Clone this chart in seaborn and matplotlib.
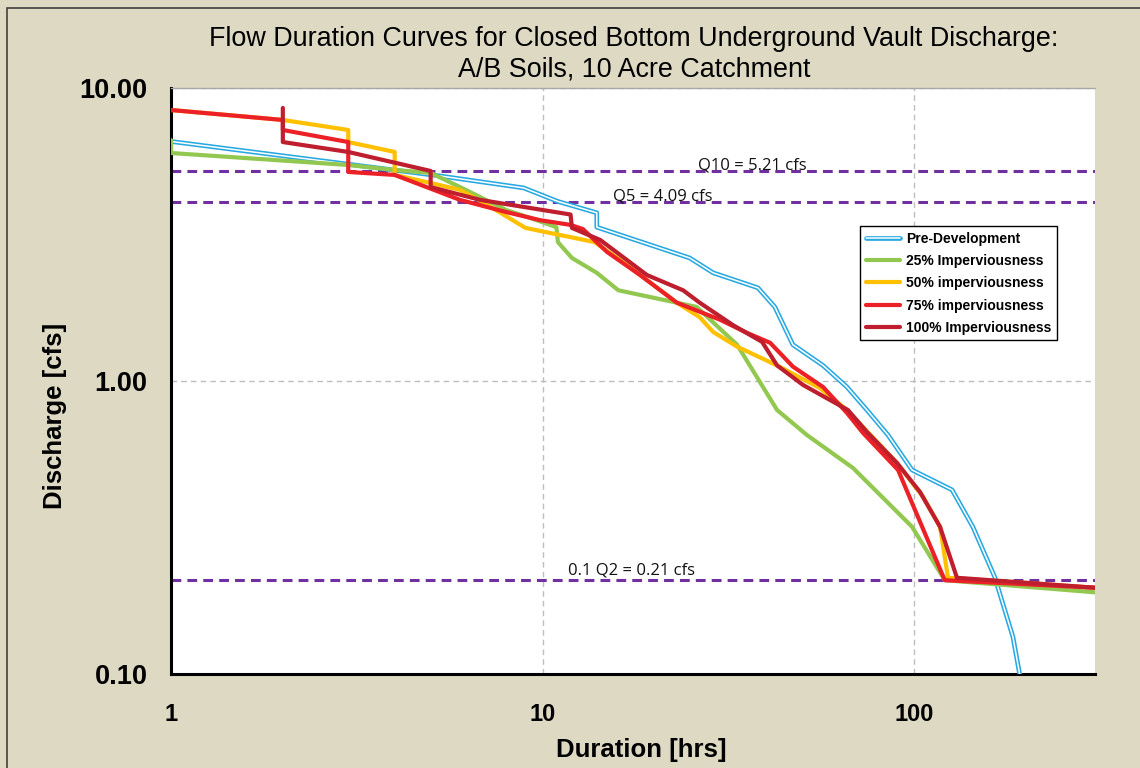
import matplotlib
matplotlib.use("Agg")
import matplotlib.pyplot as plt
import seaborn as sns
import numpy as np
from matplotlib.lines import Line2D
from matplotlib.patches import Rectangle
from matplotlib.ticker import FixedLocator, FixedFormatter, LogLocator, NullFormatter
from matplotlib.legend_handler import HandlerTuple

# ---------------- data ----------------
hours_pre = [1, 5.3, 8.9, 11.0, 14.0, 14.0, 24.9, 28.8, 38.0, 42.2, 47.2, 56.9, 66.0,
             74.7, 85.1, 98.8, 126.6, 144, 165, 184.6, 193]
cfs_pre = [6.57, 5.01, 4.56, 4.10, 3.75, 3.35, 2.63, 2.34, 2.08, 1.79, 1.33, 1.13, 0.954,
           0.796, 0.654, 0.497, 0.425, 0.318, 0.214, 0.134, 0.098]

hours_25 = [1, 1, 3.0, 4.0, 5.0, 6.0, 8.0, 9.1, 10.9, 11.0, 12.0, 14.0, 16.0, 26.0,
            33.4, 42.8, 51.5, 68.5, 98.8, 121, 307]
cfs_25 = [6.64, 6.00, 5.46, 5.25, 5.13, 4.59, 3.83, 3.63, 3.35, 2.98, 2.63, 2.34, 2.04, 1.79,
          1.33, 0.796, 0.654, 0.505, 0.318, 0.209, 0.19]

hours_50 = [1, 2, 3, 3, 4, 4, 5.0, 6.0, 6.9, 9.0, 13.8, 16.9, 19.1, 23.0, 26.5, 28.8,
            33.4, 42.8, 55.8, 66.0, 90.0, 105.8, 117.5, 123.5, 307]
cfs_50 = [8.41, 7.78, 7.19, 6.54, 6.05, 5.05, 4.74, 4.49, 4.08, 3.33, 2.98, 2.49, 2.21, 1.85,
          1.65, 1.47, 1.31, 1.13, 0.946, 0.796, 0.525, 0.402, 0.318, 0.213, 0.197]

hours_75 = [1, 2, 2, 3, 3, 4, 6.0, 8.0, 9.85, 11.9, 12.85, 14.9, 18.3, 23.0, 30.0, 35.5,
            41.0, 47.2, 56.9, 66.0, 72.9, 90.6, 121, 307]
cfs_75 = [8.41, 7.78, 7.19, 6.54, 5.17, 5.05, 4.15, 3.77, 3.54, 3.41, 3.30, 2.76, 2.30, 1.85,
          1.62, 1.46, 1.35, 1.12, 0.954, 0.778, 0.665, 0.497, 0.209, 0.197]

hours_100 = [2, 2, 3.0, 5.0, 5.0, 6.8, 11.9, 12.0, 14.3, 19.1, 23.9, 26.5, 32.6, 39.0,
             42.8, 50.3, 66.4, 74.7, 90.0, 103.8, 117.5, 130.5, 307]
cfs_100 = [8.55, 6.54, 6.05, 5.21, 4.59, 4.15, 3.70, 3.33, 3.03, 2.30, 2.04, 1.85, 1.55, 1.36,
           1.13, 0.969, 0.796, 0.670, 0.525, 0.418, 0.318, 0.213, 0.197]

series_names = ["Pre-Development", "25% Imperviousness", "50% imperviousness",
                "75% imperviousness", "100% Imperviousness"]

ref_values = [5.21, 4.09, 0.21]
ref_labels = ["Q10 = 5.21 cfs", "Q5 = 4.09 cfs", "0.1 Q2 = 0.21 cfs"]
ref_label_x = [26.2, 15.5, 11.7]

yticks = [0.1, 1, 10]
ytick_labels = ["0.10", "1.00", "10.00"]
xticks = [1, 10, 100]
xtick_labels = ["1", "10", "100"]

title = "Flow Duration Curves for Closed Bottom Underground Vault Discharge:\nA/B Soils, 10 Acre Catchment"

# ---------------- style ----------------
sns.set_style("white")
plt.rcParams['font.family'] = ['Liberation Sans', 'DejaVu Sans']
plt.rcParams['text.color'] = 'black'

BG = '#DDD9C3'
C_BLUE = '#29A9E1'
C_GREEN = '#92C850'
C_YELLOW = '#FFC000'
C_RED = '#EC2027'
C_DRED = '#BE1E2D'
C_PURPLE = '#7030A0'

W, H = 1140, 768
fig = plt.figure(figsize=(W / 100, H / 100), dpi=100, facecolor=BG)
ax = fig.add_axes([171 / W, 1 - 674 / H, (1095 - 171) / W, (674 - 88) / H])
ax.set_facecolor('white')
ax.set_xscale('log')
ax.set_yscale('log')
ax.set_xlim(1, 10 ** ((1095 - 171) / 371.5))
ax.set_ylim(0.1, 10)

# grid
for gx in [10, 100]:
    ax.axvline(gx, color='#BDBDBD', lw=1.0, ls=(0, (4, 3)), zorder=0.5)
for gy in [1, 10]:
    ax.axhline(gy, color='#BDBDBD', lw=1.0, ls=(0, (4, 3)), zorder=0.5)

# reference lines
for v in ref_values:
    ax.axhline(v, color=C_PURPLE, lw=2.2, dashes=(3.2, 2), zorder=1)
for v, lab, xl in zip(ref_values, ref_labels, ref_label_x):
    off = 1.012 if v > 1 else 1.04
    ax.text(xl, v * off, lab, fontsize=12, va='baseline', ha='left',
            family=['Open Sans', 'DejaVu Sans'], color='#111111', zorder=2)

lw = 3.0
kw = dict(estimator=None, sort=False, ax=ax, legend=False)
sns.lineplot(x=hours_pre, y=cfs_pre, color=C_BLUE, lw=3.4, zorder=3, **kw)
sns.lineplot(x=hours_pre, y=cfs_pre, color='white', lw=1.1, zorder=3.1, **kw)
sns.lineplot(x=hours_25, y=cfs_25, color=C_GREEN, lw=lw, zorder=4, **kw)
sns.lineplot(x=hours_50, y=cfs_50, color=C_YELLOW, lw=lw, zorder=5, **kw)
sns.lineplot(x=hours_75, y=cfs_75, color=C_RED, lw=lw, zorder=6, **kw)
sns.lineplot(x=hours_100, y=cfs_100, color=C_DRED, lw=lw, zorder=7, **kw)

# ticks
ax.yaxis.set_major_locator(FixedLocator(yticks))
ax.yaxis.set_major_formatter(FixedFormatter(ytick_labels))
ax.xaxis.set_major_locator(FixedLocator(xticks))
ax.xaxis.set_major_formatter(FixedFormatter(xtick_labels))
ax.yaxis.set_minor_locator(LogLocator(base=10, subs=np.arange(2, 10)))
ax.xaxis.set_minor_locator(LogLocator(base=10, subs=np.arange(2, 10)))
ax.yaxis.set_minor_formatter(NullFormatter())
ax.xaxis.set_minor_formatter(NullFormatter())
ax.tick_params(axis='y', which='major', direction='out', length=6, width=1.2,
               color='#404040', pad=11, labelsize=19.5, labelcolor='black')
ax.tick_params(axis='x', which='major', direction='inout', length=10, width=1.2,
               color='#404040', pad=16, labelsize=17, labelcolor='black')
ax.tick_params(axis='both', which='minor', direction='in', length=5, width=1.2,
               color='#404040')
for lab in ax.get_xticklabels() + ax.get_yticklabels():
    lab.set_fontweight('bold')

for s in ['left', 'bottom']:
    ax.spines[s].set_color('black')
    ax.spines[s].set_linewidth(2.2)
ax.spines['right'].set_visible(False)
ax.spines['top'].set_color('#A8A8A8')
ax.spines['top'].set_linewidth(1.0)
ax.spines['top'].set_linestyle((0, (2, 1)))

# labels & title
fig.text(55 / W, 1 - 416 / H, "Discharge [cfs]", rotation=90, ha='center', va='center',
         fontsize=18.5, fontweight='bold', color='black')
fig.text(641 / W, 1 - 750 / H, "Duration [hrs]", ha='center', va='center',
         fontsize=18.5, fontweight='bold', color='black')
fig.text(634 / W, 1 - 54 / H, title, ha='center', va='center', fontsize=19.4,
         linespacing=1.25, color='black')

# legend
h_pre = (Line2D([], [], color=C_BLUE, lw=3.4), Line2D([], [], color='white', lw=1.1))
handles = [h_pre,
           Line2D([], [], color=C_GREEN, lw=lw),
           Line2D([], [], color=C_YELLOW, lw=lw),
           Line2D([], [], color=C_RED, lw=lw),
           Line2D([], [], color=C_DRED, lw=lw)]
leg = ax.legend(handles, series_names, loc='upper left',
                bbox_to_anchor=(860 / W, 1 - 226 / H), bbox_transform=fig.transFigure,
                prop={'weight': 'bold', 'size': 10}, frameon=True, fancybox=False,
                edgecolor='black', framealpha=1, handlelength=2.5, handletextpad=0.4,
                labelspacing=0.6, borderpad=0.4, borderaxespad=0,
                handler_map={tuple: HandlerTuple(ndivide=1)})
leg.get_frame().set_linewidth(1.0)
for t in leg.get_texts():
    t.set_color('black')

# outer chart border (left & top visible)
fig.patches.append(Rectangle((7 / W, -0.5), 2, (1 - 8 / H) + 0.5, transform=fig.transFigure,
                             fill=False, edgecolor='#404040', lw=1.2))

fig.savefig("out.png", dpi=100, facecolor=BG)
